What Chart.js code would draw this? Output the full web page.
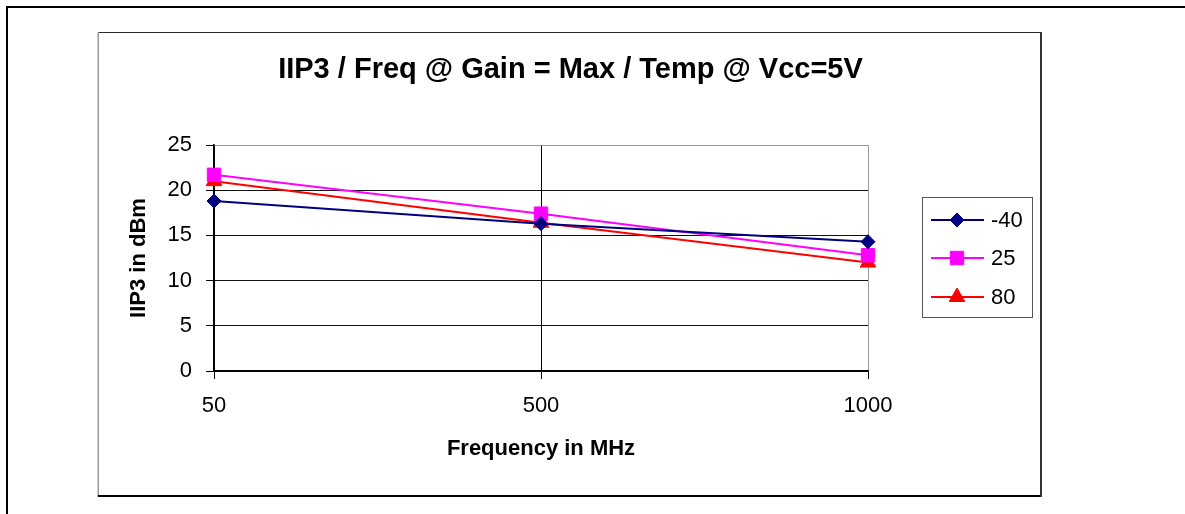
<!DOCTYPE html>
<html><head><meta charset="utf-8">
<script src="https://cdn.jsdelivr.net/npm/chart.js@4.4.1/dist/chart.umd.min.js"></script>
<style>html,body{margin:0;padding:0;background:#fff;overflow:hidden}canvas{display:block}</style>
</head><body>
<canvas id="c" width="1185" height="514"></canvas>
<script>
const categories = ['50', '500', '1000'];
const seriesNames = ['-40', '25', '80'];
const valuesM40 = [18.8, 16.3, 14.3];
const values25 = [21.7, 17.4, 12.8];
const values80 = [21.0, 16.4, 12.0];
const yTicks = [0, 5, 10, 15, 20, 25];
const chartTitle = 'IIP3 / Freq @ Gain = Max / Temp @ Vcc=5V';
const xTitle = 'Frequency in MHz';
const yTitle = 'IIP3 in dBm';

const FONT = "'Liberation Sans', Arial, sans-serif";
const colors = ['#000080', '#FF00FF', '#FF0000'];
const styles = ['rectRot', 'rect', 'triangle'];
const radii = [7, 9.5, 9];
const seriesValues = [valuesM40, values25, values80];

function drawMarker(ctx, style, r, x, y, color) {
  ctx.save();
  ctx.fillStyle = color; ctx.strokeStyle = color; ctx.lineWidth = 1;
  ctx.beginPath();
  if (style === 'rectRot') {
    ctx.moveTo(x, y - r); ctx.lineTo(x + r, y); ctx.lineTo(x, y + r); ctx.lineTo(x - r, y); ctx.closePath();
  } else if (style === 'rect') {
    const s = Math.SQRT1_2 * r; ctx.rect(x - s, y - s, 2 * s, 2 * s);
  } else {
    for (let i = 0; i < 3; i++) {
      const a = i * 2 * Math.PI / 3;
      const px = x + Math.sin(a) * r, py = y - Math.cos(a) * r;
      if (i === 0) ctx.moveTo(px, py); else ctx.lineTo(px, py);
    }
    ctx.closePath();
  }
  ctx.fill(); ctx.stroke();
  ctx.restore();
}

const decor = {
  id: 'decor',
  beforeDraw(chart) {
    const ctx = chart.ctx;
    ctx.save();
    ctx.fillStyle = '#fff'; ctx.fillRect(0, 0, chart.width, chart.height);
    // outer frame
    ctx.fillStyle = '#000';
    ctx.fillRect(6, 6, chart.width - 6, 2);
    ctx.fillRect(6, 6, 2, chart.height - 6);
    // inner chart frame
    ctx.fillStyle = '#2a2a2a'; ctx.fillRect(98, 32, 944, 1);
    ctx.fillStyle = '#999'; ctx.fillRect(97.5, 32, 1.5, 465);
    ctx.fillStyle = '#000'; ctx.fillRect(98, 495, 944, 2);
    ctx.fillStyle = '#333'; ctx.fillRect(1040, 32, 2, 465);
    ctx.restore();
  },
  afterDraw(chart) {
    const ctx = chart.ctx;
    ctx.save();
    // title
    ctx.fillStyle = '#000';
    ctx.font = 'bold 29px ' + FONT;
    ctx.textAlign = 'center'; ctx.textBaseline = 'alphabetic';
    ctx.fillText(chartTitle, 570.5, 77.5);
    // legend
    ctx.strokeStyle = '#555'; ctx.lineWidth = 1;
    ctx.strokeRect(922.5, 197.5, 110, 120);
    const rows = [220, 258, 297];
    chart.data.datasets.forEach((ds, i) => {
      const y = rows[i];
      ctx.strokeStyle = ds.borderColor; ctx.lineWidth = 2;
      ctx.beginPath(); ctx.moveTo(931, y); ctx.lineTo(984, y); ctx.stroke();
      drawMarker(ctx, ds.pointStyle, ds.pointRadius, 957, y, ds.borderColor);
      ctx.fillStyle = '#000';
      ctx.font = '22px ' + FONT;
      ctx.textAlign = 'left'; ctx.textBaseline = 'middle';
      ctx.fillText(ds.label, 991, y + 1);
    });
    ctx.restore();
  }
};

new Chart(document.getElementById('c'), {
  type: 'line',
  data: {
    labels: categories,
    datasets: seriesNames.map((name, i) => ({
      label: name,
      data: seriesValues[i],
      borderColor: colors[i],
      backgroundColor: colors[i],
      borderWidth: 2,
      pointStyle: styles[i],
      pointRadius: radii[i],
      pointBorderWidth: 1,
      pointBackgroundColor: colors[i],
      pointBorderColor: colors[i],
      tension: 0,
      clip: false
    }))
  },
  options: {
    responsive: false,
    animation: false,
    devicePixelRatio: 1,
    layout: { padding: { left: 0, top: 145, right: 317, bottom: 0 } },
    plugins: { legend: { display: false }, title: { display: false }, tooltip: { enabled: false } },
    scales: {
      x: {
        type: 'category',
        offset: false,
        afterFit(s) { s.height = 143; },
        grid: {
          color: (c) => c.index === 2 ? '#999' : '#000',
          tickColor: '#000',
          tickLength: 8,
          lineWidth: 1
        },
        border: { color: '#000', width: 1.5 },
        ticks: { color: '#000', font: { family: FONT, size: 22 }, padding: 14, maxRotation: 0, autoSkip: false },
        title: { display: true, text: xTitle, color: '#000', font: { family: FONT, size: 22, weight: 'bold' }, padding: { top: 0, bottom: 52 } }
      },
      y: {
        min: 0, max: 25,
        afterBuildTicks(s) { s.ticks = yTicks.map(v => ({ value: v })); },
        afterFit(s) { s.width = 214; },
        grid: {
          color: (c) => c.tick && c.tick.value === 25 ? '#999' : '#111',
          tickColor: '#000',
          tickLength: 8,
          lineWidth: 1
        },
        border: { color: '#000', width: 1.5 },
        ticks: { color: '#000', font: { family: FONT, size: 22 }, padding: 14 },
        title: { display: true, text: yTitle, color: '#000', font: { family: FONT, size: 22, weight: 'bold' }, padding: { top: 126, bottom: 0 } }
      }
    }
  },
  plugins: [decor]
});
</script>
</body></html>
